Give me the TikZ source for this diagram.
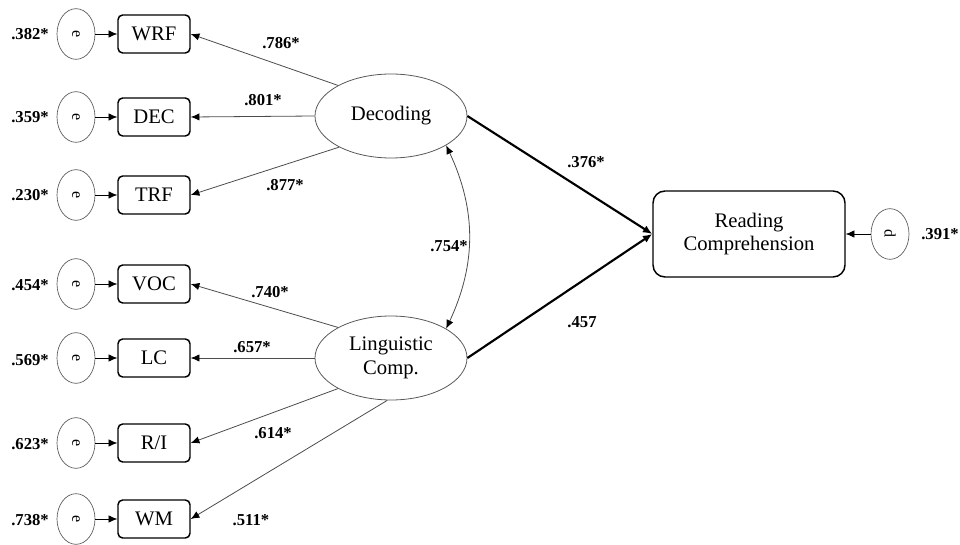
\documentclass[tikz,border=0pt]{standalone}
\usepackage{fontspec}
\setmainfont{Liberation Serif}
\usetikzlibrary{shapes.geometric,arrows.meta}

\newcommand{\errlab}[1]{\rotatebox{-90}{\fontsize{12}{12}\selectfont #1}}

\tikzset{
	err/.style={draw=gray!70!black, line width=.5pt, ellipse, minimum width=28.5pt, minimum height=38pt, inner sep=0pt},
	obs/.style={draw, line width=1.1pt, rounded corners=3.5pt, minimum width=54pt, minimum height=28.5pt, inner sep=0pt},
	lat/.style={draw=gray!70!black, line width=.6pt, ellipse, minimum width=114pt, minimum height=63pt, inner sep=0pt, align=center},
	val/.style={font=\fontsize{12.5}{12.5}\selectfont\bfseries},
	tip/.style={-{Latex[length=6.5pt,width=5.5pt]}},
	load/.style={-{Latex[length=6.5pt,width=5.5pt,fill=black,color=black]}, draw=gray!60!black, line width=.6pt},
	path/.style={-{Latex[length=7pt,width=6pt]}, line width=1.6pt},
}

\begin{document}
\begin{tikzpicture}[x=0.75pt,y=-0.75pt,font=\fontsize{15.5}{17.5}\selectfont]
	\useasboundingbox (0,0) rectangle (960,545);

		\node[val] (v1) at (30,34) {.382*};
		\node[val] (v2) at (30,117) {.359*};
		\node[val] (v3) at (30,195) {.230*};
		\node[val] (v4) at (30,285) {.454*};
		\node[val] (v5) at (30,360) {.569*};
		\node[val] (v6) at (30,444) {.623*};
		\node[val] (v7) at (30,520) {.738*};

		\node[err] (e1) at (76,34) {\errlab{e}};
		\node[err] (e2) at (76,117) {\errlab{e}};
		\node[err] (e3) at (76,195) {\errlab{e}};
		\node[err] (e4) at (76,284) {\errlab{e}};
		\node[err] (e5) at (76,358) {\errlab{e}};
		\node[err] (e6) at (76,443) {\errlab{e}};
		\node[err] (e7) at (76,519) {\errlab{e}};

	\node[obs] (WRF) at (154,34) {WRF};
	\node[obs] (DEC) at (154,117) {DEC};
	\node[obs] (TRF) at (154,195) {TRF};
	\node[obs] (VOC) at (154,284) {VOC};
	\node[obs] (LC) at (154,358) {LC};
	\node[obs] (RI) at (154,443) {R/I};
	\node[obs] (WM) at (154,519) {WM};

	\draw[tip] (e1) -- (WRF);
	\draw[tip] (e2) -- (DEC);
	\draw[tip] (e3) -- (TRF);
	\draw[tip] (e4) -- (VOC);
	\draw[tip] (e5) -- (LC);
	\draw[tip] (e6) -- (RI);
	\draw[tip] (e7) -- (WM);

	\node[lat] (Dec) at (391,116) {Decoding};
	\node[lat] (Lin) at (391,358) {Linguistic\\Comp.};

	\node[draw, line width=1.1pt, rounded corners=9pt, minimum width=144pt, minimum height=64.5pt, align=center] (RC) at (749,234) {Reading\\Comprehension};
		\node[err] (d) at (890,234) {\errlab{d}};
		\node[val] (vd) at (940,234) {.391*};
		\draw[tip] (d) -- (RC);

	\draw[load] (Dec.150) -- (WRF.east);
	\draw[load] (Dec.west) -- (DEC.east);
	\draw[load] (Dec.211) -- (TRF.east);
	\draw[load] (Lin.150) -- (VOC.east);
	\draw[load] (Lin.west) -- (LC.east);
	\draw[load] (Lin.210) -- (RI.east);
	\draw[load] (Lin.265) -- (WM.east);

		\node[val] (l1) at (281,43) {.786*};
		\node[val] (l2) at (263,100) {.801*};
		\node[val] (l3) at (285,185) {.877*};
		\node[val] (l4) at (270,292) {.740*};
		\node[val] (l5) at (252,347) {.657*};
		\node[val] (l6) at (273,433) {.614*};
		\node[val] (l7) at (251,520) {.511*};

	\draw[path] (Dec.east) -- (RC.west);
	\draw[path] (Lin.east) -- (RC.west);
		\node[val] (b1) at (586,162) {.376*};
		\node[val] (b2) at (582,322) {.457};

	\draw[load, {Latex[length=6.5pt,width=5.5pt,fill=black,color=black]}-{Latex[length=6.5pt,width=5.5pt,fill=black,color=black]}] (Dec.-28) to[bend left=25] (Lin.28);
		\node[val] (r1) at (449,246) {.754*};

\end{tikzpicture}
\end{document}
